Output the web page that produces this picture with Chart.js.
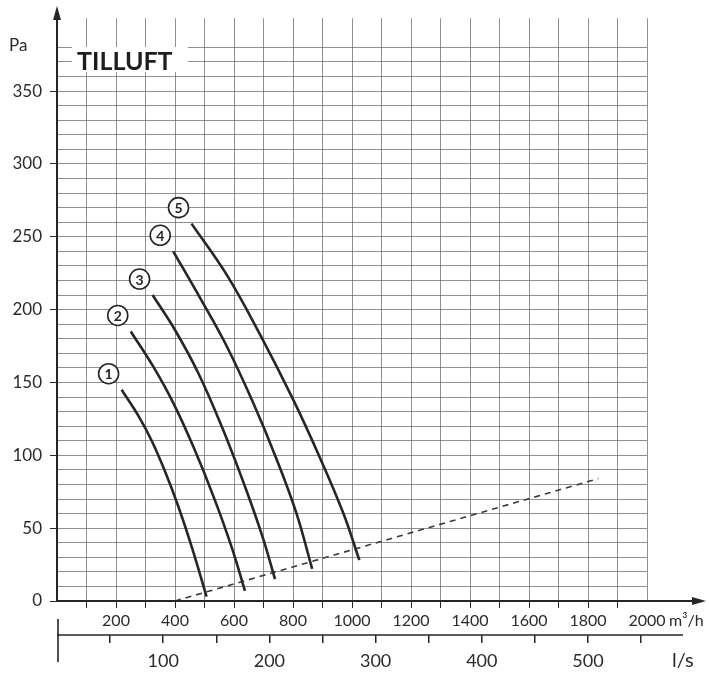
<!DOCTYPE html>
<html lang="sv">
<head>
    <meta charset="UTF-8">
    <title>Tilluft</title>
    <script src="https://cdn.jsdelivr.net/npm/chart.js"></script>
    <style>
        body { margin: 0; background: #fff; }
        #wrap { width: 709px; height: 678px; }
    </style>
</head>
<body>
    <div id="wrap"><canvas id="fanChart" width="709" height="678"></canvas></div>

    <script>
        // Fläktkurvor: luftflöde (m3/h) och tryck (Pa)
        const kurva1Flode = [219, 276, 321, 366, 411, 457, 507];
        const kurva1Tryck = [145, 127, 110, 89, 65, 37, 3];
        const kurva2Flode = [250, 326, 394, 462, 530, 592, 637];
        const kurva2Tryck = [185, 161, 136, 106, 72, 37, 7];
        const kurva3Flode = [324, 400, 480, 560, 640, 700, 739];
        const kurva3Tryck = [210, 186, 156, 119, 77, 42, 15];
        const kurva4Flode = [394, 485, 575, 665, 745, 812, 865];
        const kurva4Tryck = [240, 208, 175, 136, 97, 60, 22];
        const kurva5Flode = [456, 575, 688, 801, 892, 971, 1025];
        const kurva5Tryck = [259, 224, 183, 138, 98, 60, 28];
        const kurvNamn = ['1', '2', '3', '4', '5'];

        // streckad systemlinje
        const systemFlode = [400, 1835];
        const systemTryck = [0, 84];

        // skalor
        const flodeTicks = [0, 100, 200, 300, 400, 500, 600, 700, 800, 900, 1000,
            1100, 1200, 1300, 1400, 1500, 1600, 1700, 1800, 1900, 2000];
        const flodeEtiketter = [200, 400, 600, 800, 1000, 1200, 1400, 1600, 1800, 2000];
        const lsTicks = [0, 50, 100, 150, 200, 250, 300, 350, 400, 450, 500, 550];
        const lsEtiketter = [100, 200, 300, 400, 500];
        const paTicks = [0, 10, 20, 30, 40, 50, 60, 70, 80, 90, 100, 110, 120, 130, 140,
            150, 160, 170, 180, 190, 200, 210, 220, 230, 240, 250, 260, 270, 280, 290,
            300, 310, 320, 330, 340, 350, 360, 370, 380];
        const paEtiketter = [0, 50, 100, 150, 200, 250, 300, 350];

        const FONT = 'Lato';
        const INK = '#262626';
        const GRID = 'rgba(95,95,95,0.7)';

        function punkter(flode, tryck) {
            return flode.map((f, i) => ({ x: f, y: tryck[i] }));
        }

        const kurvor = [
            punkter(kurva1Flode, kurva1Tryck),
            punkter(kurva2Flode, kurva2Tryck),
            punkter(kurva3Flode, kurva3Tryck),
            punkter(kurva4Flode, kurva4Tryck),
            punkter(kurva5Flode, kurva5Tryck)
        ];

        const datasets = kurvor.map((d, i) => ({
            label: kurvNamn[i],
            data: d,
            borderColor: INK,
            borderWidth: 2.6,
            pointRadius: 0,
            tension: 0.4,
            fill: false
        }));
        datasets.push({
            label: 'system',
            data: punkter(systemFlode, systemTryck),
            borderColor: '#3a3a3a',
            borderWidth: 1.6,
            borderDash: [6, 5],
            pointRadius: 0,
            fill: false
        });

        function pil(ctx, x, y, dir) {
            ctx.beginPath();
            if (dir === 'up') {
                ctx.moveTo(x, y);
                ctx.lineTo(x - 4, y + 14);
                ctx.lineTo(x + 4, y + 14);
            } else {
                ctx.moveTo(x, y);
                ctx.lineTo(x - 14, y - 4);
                ctx.lineTo(x - 14, y + 4);
            }
            ctx.closePath();
            ctx.fill();
        }

        const ritaExtra = {
            id: 'ritaExtra',
            afterDatasetsDraw(chart) {
                const ctx = chart.ctx;
                const ca = chart.chartArea;
                const x2 = chart.scales.x2;
                ctx.save();

                // axlar med pilar
                ctx.strokeStyle = INK;
                ctx.fillStyle = INK;
                ctx.lineWidth = 2;
                ctx.beginPath();
                ctx.moveTo(ca.left, ca.bottom);
                ctx.lineTo(ca.left, 14);
                ctx.moveTo(ca.left, ca.bottom);
                ctx.lineTo(700, ca.bottom);
                ctx.stroke();
                pil(ctx, ca.left, 6, 'up');
                pil(ctx, 706, ca.bottom, 'right');

                // l/s-axel
                ctx.lineWidth = 1.6;
                ctx.beginPath();
                ctx.moveTo(ca.left, x2.top);
                ctx.lineTo(683, x2.top);
                ctx.moveTo(ca.left + 1, 619);
                ctx.lineTo(ca.left + 1, 662);
                ctx.stroke();

                // texter
                ctx.fillStyle = '#2b2b2b';
                ctx.textBaseline = 'middle';
                ctx.textAlign = 'left';
                ctx.font = '17px ' + FONT;
                ctx.fillText('Pa', 9, 46);
                ctx.font = '16px ' + FONT;
                ctx.fillText('m\u00b3/h', 669, 621);
                ctx.font = '20px ' + FONT;
                ctx.fillText('l/s', 672, 661);

                // rubrik med vit bakgrund
                ctx.fillStyle = '#fff';
                ctx.fillRect(72, 47, 116, 25);
                ctx.fillStyle = '#1e1e1e';
                ctx.font = 'bold 25px ' + FONT;
                ctx.textBaseline = 'alphabetic';
                ctx.fillText('TILLUFT', 77, 70);

                // numrerade ringar vid kurvornas början
                ctx.textAlign = 'center';
                ctx.textBaseline = 'middle';
                kurvNamn.forEach((namn, i) => {
                    const p = chart.getDatasetMeta(i).data[0];
                    const cx = p.x - 13, cy = p.y - 16;
                    ctx.beginPath();
                    ctx.arc(cx, cy, 10, 0, Math.PI * 2);
                    ctx.fillStyle = '#fff';
                    ctx.fill();
                    ctx.lineWidth = 1.6;
                    ctx.strokeStyle = INK;
                    ctx.stroke();
                    ctx.fillStyle = INK;
                    ctx.font = 'bold 14px ' + FONT;
                    ctx.fillText(namn, cx, cy + 1);
                });
                ctx.restore();
            }
        };

        new Chart(document.getElementById('fanChart'), {
            type: 'line',
            data: { datasets: datasets },
            options: {
                responsive: false,
                animation: false,
                layout: { padding: { top: 17, right: 62, left: 0, bottom: 0 } },
                plugins: { legend: { display: false }, tooltip: { enabled: false } },
                scales: {
                    x: {
                        type: 'linear',
                        position: 'bottom',
                        weight: 0,
                        min: 0,
                        max: 2000,
                        afterBuildTicks: s => { s.ticks = flodeTicks.map(v => ({ value: v })); },
                        afterFit: s => { s.height = 34; },
                        border: { display: false },
                        grid: {
                            color: GRID,
                            lineWidth: 1,
                            tickLength: 7,
                            tickColor: c => (c.tick.value > 0 && c.tick.value < 2000) ? INK : 'rgba(0,0,0,0)'
                        },
                        ticks: {
                            autoSkip: false,
                            maxRotation: 0,
                            padding: 3,
                            color: '#2b2b2b',
                            font: { family: FONT, size: 16 },
                            callback: v => flodeEtiketter.includes(v) ? String(v) : ''
                        }
                    },
                    x2: {
                        type: 'linear',
                        position: 'bottom',
                        weight: 1,
                        min: 0,
                        max: 2000 / 3.6,
                        afterBuildTicks: s => { s.ticks = lsTicks.map(v => ({ value: v })); },
                        afterFit: s => { s.height = 43; },
                        border: { display: false },
                        grid: {
                            drawOnChartArea: false,
                            tickLength: 8,
                            lineWidth: 1.5,
                            tickColor: c => c.tick.value > 0 ? INK : 'rgba(0,0,0,0)'
                        },
                        ticks: {
                            autoSkip: false,
                            maxRotation: 0,
                            padding: 7,
                            color: '#2b2b2b',
                            font: { family: FONT, size: 18 },
                            callback: v => lsEtiketter.includes(v) ? String(v) : ''
                        }
                    },
                    y: {
                        type: 'linear',
                        min: 0,
                        max: 400,
                        afterBuildTicks: s => { s.ticks = paTicks.map(v => ({ value: v })); },
                        afterFit: s => { s.width = 57; },
                        border: { display: false },
                        grid: {
                            color: GRID,
                            lineWidth: 1,
                            tickLength: 7,
                            tickColor: c => paEtiketter.includes(c.tick.value) ? INK : 'rgba(0,0,0,0)'
                        },
                        ticks: {
                            autoSkip: false,
                            padding: 8,
                            color: '#2b2b2b',
                            font: { family: FONT, size: 17 },
                            callback: v => paEtiketter.includes(v) ? String(v) : ''
                        }
                    }
                }
            },
            plugins: [ritaExtra]
        });
    </script>
</body>
</html>
